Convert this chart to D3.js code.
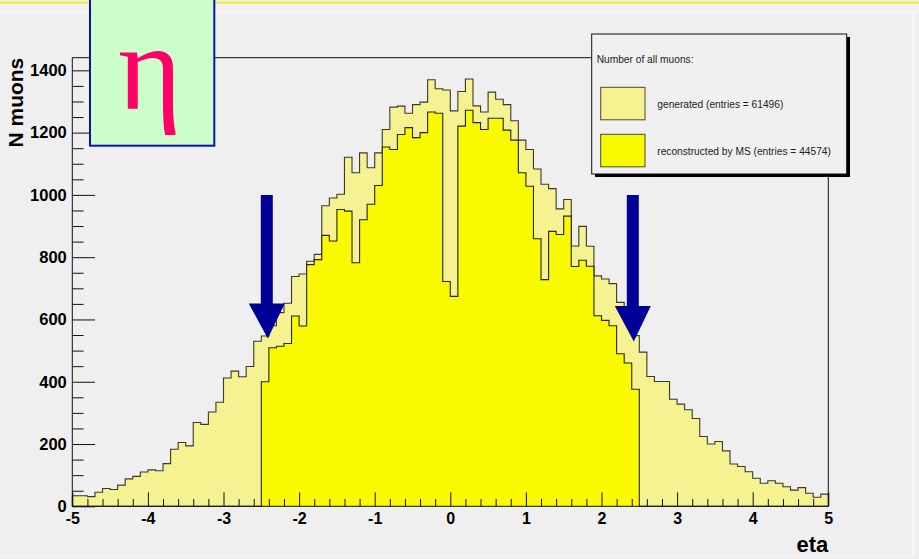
<!DOCTYPE html>
<html>
<head>
<meta charset="utf-8">
<script src="https://cdn.jsdelivr.net/npm/d3@7/dist/d3.min.js"></script>
<style>
  html, body { margin: 0; padding: 0; background: #efefef; }
  svg { display: block; }
</style>
</head>
<body>
<svg id="chart" width="919" height="559"></svg>
<script>
// eta range and binning (100 bins of width 0.1)
const etaRange = [-5, 5];
const binWidth = 0.1;

// Generated muons per eta bin, from eta = -5.0 upwards
const generated = [
  34, 34, 31, 45, 57, 54, 68, 88, 96, 110,
  117, 114, 137, 183, 205, 194, 269, 263, 303, 334,
  412, 434, 416, 449, 530, 547, 580, 622, 652, 738,
  746, 787, 809, 965, 990, 1002, 1121, 1071, 1135, 1087,
  1135, 1210, 1282, 1285, 1262, 1290, 1298, 1370, 1341, 1337,
  1270, 1332, 1372, 1286, 1266, 1330, 1307, 1290, 1238, 1176,
  1146, 1083, 1034, 1020, 955, 985, 836, 899, 835, 740,
  730, 715, 655, 605, 548, 495, 417, 401, 401, 344,
  328, 310, 282, 224, 200, 208, 178, 136, 128, 111,
  90, 74, 82, 74, 63, 52, 60, 42, 29, 39
];

// Muons reconstructed by the muon spectrometer (|eta| < 2.5 only)
const reconstructed = [
  0, 0, 0, 0, 0, 0, 0, 0, 0, 0,
  0, 0, 0, 0, 0, 0, 0, 0, 0, 0,
  0, 0, 0, 0, 0, 400, 509, 514, 523, 611,
  579, 776, 792, 870, 852, 953, 948, 782, 920, 970,
  1030, 1154, 1146, 1194, 1216, 1184, 1200, 1266, 1262, 722,
  674, 1221, 1272, 1232, 1210, 1246, 1246, 1208, 1176, 1071,
  1028, 859, 728, 883, 873, 932, 770, 790, 771, 612,
  597, 580, 490, 460, 376, 0, 0, 0, 0, 0,
  0, 0, 0, 0, 0, 0, 0, 0, 0, 0,
  0, 0, 0, 0, 0, 0, 0, 0, 0, 0
];

const xTickLabels = [-5, -4, -3, -2, -1, 0, 1, 2, 3, 4, 5];
const yTickLabels = [0, 200, 400, 600, 800, 1000, 1200, 1400];

const legendTitle = "Number of all muons:";
const legendLabels = ["generated (entries = 61496)", "reconstructed by MS (entries = 44574)"];
const xTitle = "eta";
const yTitle = "N muons";
const markerArrowsAt = [-2.5, 2.5];

const svg = d3.select("#chart");
const W = 919, H = 559;
const frame = { left: 72.3, right: 828.3, top: 57.7, bottom: 506.3 };

const x = d3.scaleLinear().domain(etaRange).range([frame.left, frame.right]);
const y = d3.scaleLinear().domain([0, d3.max(generated) * 1.05]).range([frame.bottom, frame.top]);

// ---- page background and slide border ----
svg.append("rect").attr("width", W).attr("height", H).attr("fill", "#efefef");
svg.append("rect").attr("x", 0).attr("y", 0).attr("width", W).attr("height", 12).attr("fill", "#f2f2f2");
svg.append("rect").attr("x", 0).attr("y", 1.5).attr("width", W).attr("height", 2.5).attr("fill", "#eeee4a");
svg.append("line").attr("x1", 0).attr("x2", W).attr("y1", 12.5).attr("y2", 12.5)
  .attr("stroke", "#f8f8ff").attr("stroke-width", 1.5);
svg.append("line").attr("x1", 913.5).attr("x2", 913.5).attr("y1", 12.5).attr("y2", 556.5)
  .attr("stroke", "#fbfbf4").attr("stroke-width", 1.5);
svg.append("line").attr("x1", 0).attr("x2", 913.5).attr("y1", 556.5).attr("y2", 556.5)
  .attr("stroke", "#fbf6f6").attr("stroke-width", 1.5);

// ---- fill pattern for the generated histogram ----
const defs = svg.append("defs");
const pat = defs.append("pattern").attr("id", "genHatch")
  .attr("width", 4).attr("height", 4).attr("patternUnits", "userSpaceOnUse");
pat.append("rect").attr("width", 4).attr("height", 4).attr("fill", "#f3f0b8");
pat.append("rect").attr("x", 0).attr("y", 0).attr("width", 2).attr("height", 2).attr("fill", "#f7f36a");
pat.append("rect").attr("x", 2).attr("y", 2).attr("width", 2).attr("height", 2).attr("fill", "#f7f36a");

// ---- histogram helpers ----
const lowEdges = generated.map((_, i) => etaRange[0] + i * binWidth);

function stepPoints(values) {
  const pts = [[etaRange[0], 0]];
  values.forEach((v, i) => pts.push([lowEdges[i], v]));
  pts.push([etaRange[1], values[values.length - 1]]);
  pts.push([etaRange[1], 0]);
  return pts;
}

const stepLine = d3.line()
  .x(d => x(d[0])).y(d => y(d[1]))
  .curve(d3.curveStepAfter);

const stepArea = d3.area()
  .x(d => x(d[0])).y0(y(0)).y1(d => y(d[1]))
  .curve(d3.curveStepAfter);

function areaPoints(values) {
  const pts = values.map((v, i) => [lowEdges[i], v]);
  pts.push([etaRange[1], values[values.length - 1]]);
  return pts;
}

const g = svg.append("g");

// generated
g.append("path").datum(areaPoints(generated))
  .attr("d", stepArea).attr("fill", "url(#genHatch)");
g.append("path").datum(stepPoints(generated))
  .attr("d", stepLine).attr("fill", "none")
  .attr("stroke", "#3a3a2a").attr("stroke-width", 1.1);

// reconstructed
g.append("path").datum(areaPoints(reconstructed))
  .attr("d", stepArea).attr("fill", "#f9f900");
g.append("path").datum(stepPoints(reconstructed))
  .attr("d", stepLine).attr("fill", "none")
  .attr("stroke", "#262616").attr("stroke-width", 1.1);

// ---- frame lines ----
svg.append("line").attr("x1", frame.left).attr("x2", 592).attr("y1", frame.top).attr("y2", frame.top)
  .attr("stroke", "#111").attr("stroke-width", 1);
svg.append("line").attr("x1", frame.right).attr("x2", frame.right).attr("y1", 170).attr("y2", frame.bottom)
  .attr("stroke", "#111").attr("stroke-width", 1);

// ---- axes ----
const labelFont = "'Liberation Sans', Arial, Helvetica, sans-serif";
const plainNumber = d => String(d);

const yMinor = d3.range(50, y.domain()[1], 50).filter(v => v % 200 !== 0);
svg.append("g").attr("transform", `translate(${frame.left},0)`)
  .call(d3.axisLeft(y).tickValues(yMinor).tickSizeInner(-11.3).tickSizeOuter(0).tickFormat(""))
  .call(a => a.select(".domain").remove())
  .selectAll("line").attr("stroke", "#111");

const yAxis = svg.append("g").attr("transform", `translate(${frame.left},0)`)
  .call(d3.axisLeft(y).tickValues(yTickLabels).tickSizeInner(-22.7).tickSizeOuter(0).tickPadding(5.5)
    .tickFormat(plainNumber));
yAxis.select(".domain").attr("d", `M0,${frame.bottom}V${frame.top}`).attr("stroke", "#111");
yAxis.selectAll("line").attr("stroke", "#111");
yAxis.selectAll("text").attr("font-family", labelFont).attr("font-weight", "bold")
  .attr("font-size", 16.5).attr("fill", "#000");

const xMinor = d3.range(-48, 50, 2).map(v => v / 10).filter(v => !Number.isInteger(v));
svg.append("g").attr("transform", `translate(0,${frame.bottom})`)
  .call(d3.axisBottom(x).tickValues(xMinor).tickSizeInner(-7.3).tickSizeOuter(0).tickFormat(""))
  .call(a => a.select(".domain").remove())
  .selectAll("line").attr("stroke", "#111");

const xAxis = svg.append("g").attr("transform", `translate(0,${frame.bottom})`)
  .call(d3.axisBottom(x).tickValues(xTickLabels).tickSizeInner(-14).tickSizeOuter(0).tickPadding(6)
    .tickFormat(plainNumber));
xAxis.select(".domain").attr("d", `M${frame.left},0H${frame.right}`).attr("stroke", "#111");
xAxis.selectAll("line").attr("stroke", "#111");
xAxis.selectAll("text").attr("font-family", labelFont).attr("font-weight", "bold")
  .attr("font-size", 16).attr("fill", "#000");

// axis titles
svg.append("text").attr("x", frame.right).attr("y", 551.5).attr("text-anchor", "end")
  .attr("font-family", labelFont).attr("font-weight", "bold").attr("font-size", 22)
  .text(xTitle);
svg.append("text").attr("transform", `translate(23,${frame.top}) rotate(-90)`)
  .attr("text-anchor", "end")
  .attr("font-family", labelFont).attr("font-weight", "bold").attr("font-size", 21)
  .text(yTitle);

// ---- acceptance arrows at |eta| = 2.5 ----
const arrowSpec = [
  { top: 195, base: 303.5, tip: 338.5, shift: 5.5 },
  { top: 195, base: 306, tip: 341.5, shift: -6.5 }
];
markerArrowsAt.forEach((eta, i) => {
  const s = arrowSpec[i];
  const cx = x(eta) + s.shift;
  svg.append("rect").attr("x", cx - 6).attr("y", s.top).attr("width", 12).attr("height", s.base - s.top + 1)
    .attr("fill", "#000096");
  svg.append("path")
    .attr("d", `M${cx - 18},${s.base}L${cx + 18},${s.base}L${cx + 1},${s.tip}Z`)
    .attr("fill", "#000096");
});

// ---- eta label box ----
svg.append("rect").attr("x", 90).attr("y", -5).attr("width", 124.3).attr("height", 150.7)
  .attr("fill", "#ccfecc").attr("stroke", "#1010b0").attr("stroke-width", 2);
svg.append("text").attr("x", 150).attr("y", 109).attr("text-anchor", "middle")
  .attr("font-family", "'Liberation Serif', 'Times New Roman', serif")
  .attr("font-size", 122).attr("fill", "#ff0066")
  .text("η");

// ---- legend ----
const lg = svg.append("g");
lg.append("rect").attr("x", 595).attr("y", 37).attr("width", 255).attr("height", 140).attr("fill", "#000");
lg.append("rect").attr("x", 591.7).attr("y", 34).attr("width", 255).attr("height", 140)
  .attr("fill", "#f0f0f0").attr("stroke", "#111").attr("stroke-width", 1);
const legendFont = "'Liberation Sans', Arial, Helvetica, sans-serif";
lg.append("text").attr("x", 596.7).attr("y", 62.8).attr("font-family", legendFont)
  .attr("font-size", 10.2).attr("fill", "#222").text(legendTitle);

const swatchFills = ["url(#genHatch)", "#f9f900"];
legendLabels.forEach((label, i) => {
  const yTop = 87.3 + i * 47;
  lg.append("rect").attr("x", 600.7).attr("y", yTop).attr("width", 44.3).attr("height", 32.5)
    .attr("fill", swatchFills[i]).attr("stroke", "#4a4a30").attr("stroke-width", 1);
  lg.append("text").attr("x", 657.3).attr("y", yTop + 20.2).attr("font-family", legendFont)
    .attr("font-size", 10.2).attr("fill", "#222").text(label);
});
</script>
</body>
</html>
